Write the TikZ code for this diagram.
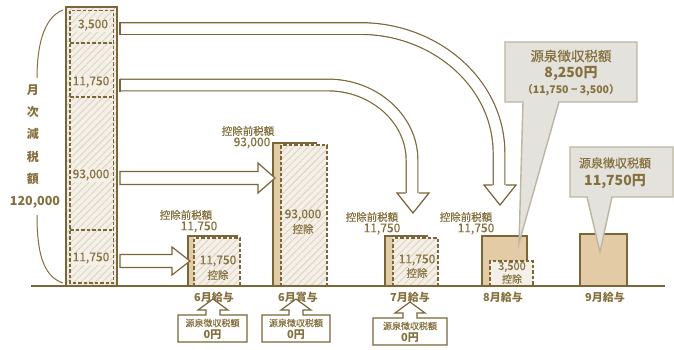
\documentclass[tikz,border=0pt]{standalone}
\usepackage{fontspec}
\setmainfont{Noto Sans CJK JP}
\newfontfamily\medf{Noto Sans CJK JP}[FakeBold=0.35]
\usetikzlibrary{patterns.meta}
\definecolor{ol}{HTML}{7A6636}
\definecolor{tx}{HTML}{84703C}
\definecolor{tanc}{HTML}{E3CBA5}
\definecolor{hbg}{HTML}{F4F0E8}
\definecolor{hln}{HTML}{DDD2BE}
\definecolor{cfill}{HTML}{E4E2DC}
\definecolor{cline}{HTML}{BDB5A0}
\tikzset{
  hatch/.style={preaction={fill=hbg},pattern={Lines[angle=45,distance=5pt,line width=0.8pt]},pattern color=hln},
  solidln/.style={draw=ol,line width=1.5pt},
  dashln/.style={draw=ol,line width=1.6pt,dash pattern=on 3.5pt off 2pt},
  lbl/.style={text=tx,font=\medf\fontsize{12}{12}\selectfont,inner sep=0pt},
  smalllbl/.style={text=tx,font=\medf\fontsize{10.5}{11}\selectfont,inner sep=0pt},
  monthlbl/.style={text=tx,font=\fontsize{11}{11}\selectfont\bfseries,inner sep=0pt},
  vchar/.style={text=tx,font=\fontsize{12}{12}\selectfont\bfseries,inner sep=0pt},
  blk/.style={draw=ol,line width=1.2pt,fill=white,line join=miter},
  shaft/.style={draw=ol,line width=1.2pt,double=white,double distance=10.5pt},
  callout/.style={draw=cline,line width=1.4pt,fill=cfill},
  boxlbl/.style={text=tx,font=\medf\fontsize{9}{9}\selectfont,inner sep=0pt},
  boxval/.style={text=tx,font=\fontsize{11}{11}\selectfont\bfseries,inner sep=0pt},
}
\begin{document}
\begin{tikzpicture}[x=1pt,y=-1pt]
\useasboundingbox[fill=white] (0,0) rectangle (674,349);

% ---- tall column ----
\draw[solidln,hatch] (66,7) rectangle (117,286);
\draw[dashln] (70,10.5) rectangle (113.5,283);
\draw[dashln] (70,43) -- (113.5,43);
\draw[dashln] (70,97) -- (113.5,97);
\draw[dashln] (70,230) -- (113.5,230);
\node[lbl,fill=hbg,inner sep=1pt] (c1) at (93,25) {3,500};
\node[lbl,fill=hbg,inner sep=1pt] (c2) at (91,82) {11,750};
\node[lbl,fill=hbg,inner sep=1pt] (c3) at (91,175) {93,000};
\node[lbl,fill=hbg,inner sep=1pt] (c4) at (91,258) {11,750};

% ---- brace and vertical label ----
\draw[tx,line width=1pt] (63,10) .. controls (42,18) and (37,50) .. (37,78);
\draw[tx,line width=1pt] (37,215) .. controls (37,250) and (42,276) .. (63,283);
\node[vchar] (v1) at (33,90) {月};
\node[vchar] (v2) at (33,112) {次};
\node[vchar] (v3) at (33,134) {減};
\node[vchar] (v4) at (33,157) {税};
\node[vchar] (v5) at (33,179) {額};
\node[vchar,font=\fontsize{12.5}{12.5}\selectfont\bfseries] (v6) at (35,202) {120,000};

% ---- bars ----
% 6月給与
\fill[tanc] (188,236) rectangle (194,286);
\path[hatch] (194,238) rectangle (240,286);
\draw[dashln] (194,286) -- (194,238) -- (240,238) -- (240,286);
\draw[solidln] (188,286) -- (188,236) -- (238,236);
% 6月賞与
\fill[tanc] (273,143) rectangle (281,286);
\path[hatch] (281,145) rectangle (327,286);
\draw[dashln] (281,286) -- (281,145) -- (327,145) -- (327,286);
\draw[solidln] (273,286) -- (273,143) -- (317,143);
% 7月給与
\fill[tanc] (385,236) rectangle (393,286);
\path[hatch] (393,238) rectangle (438,286);
\draw[dashln] (393,286) -- (393,238) -- (438,238) -- (438,286);
\draw[solidln] (385,286) -- (385,236) -- (428,236);
% 8月給与
\draw[solidln,fill=tanc] (482,236) rectangle (527,286);
\fill[hbg] (490,261) rectangle (533,286);
\draw[dashln] (490,286) -- (490,261) -- (533,261) -- (533,286);
% 9月給与
\draw[solidln,fill=tanc] (580,234) rectangle (627,286);

% baseline
\draw[ol,line width=1.8pt] (31,286) -- (665,286);

% ---- labels over bars ----
\node[smalllbl] (a1) at (186,215) {控除前税額};
\node[lbl] (a2) at (199,227) {11,750};
\node[smalllbl] (b1) at (248,131) {控除前税額};
\node[lbl] (b2) at (252,143) {93,000};
\node[smalllbl] (d1) at (372,217) {控除前税額};
\node[lbl] (d2) at (382,229) {11,750};
\node[smalllbl] (e1) at (466,217) {控除前税額};
\node[lbl] (e2) at (476,229) {11,750};

% inner texts
\node[lbl] (i1) at (218,261) {11,750};
\node[smalllbl] (i1b) at (218,275) {控除};
\node[lbl] (i2) at (303,215) {93,000};
\node[smalllbl] (i2b) at (303,229) {控除};
\node[lbl] (i3) at (417,260) {11,750};
\node[smalllbl] (i3b) at (417,273) {控除};
\node[lbl,font=\medf\fontsize{11}{11}\selectfont] (i4) at (512,267) {3,500};
\node[smalllbl,font=\medf\fontsize{10}{10}\selectfont] (i4b) at (512,279) {控除};

% month labels
\node[monthlbl] (m1) at (214,297) {6月給与};
\node[monthlbl] (m2) at (298,297) {6月賞与};
\node[monthlbl] (m3) at (410,297) {7月給与};
\node[monthlbl] (m4) at (503,297) {8月給与};
\node[monthlbl] (m5) at (605,297) {9月給与};

% ---- block arrows ----
% arrow 1 (3,500) -> 8月
\draw[shaft] (120,28.5) -- (360,28.5) .. controls (436,28.5) and (499,84) .. (499,153) -- (499,185.5);
\draw[ol,line width=1.2pt] (120,22) -- (120,35);
\draw[blk] (492.5,185) -- (484,185) -- (500,205) -- (516,185) -- (505.5,185);
% arrow 2 (11,750) -> 7月
\draw[shaft] (120,85) -- (328,85) .. controls (374,85) and (412,119) .. (412,160) -- (412,193.5);
\draw[ol,line width=1.2pt] (120,78.5) -- (120,91.5);
\draw[blk] (405.5,193) -- (397,193) -- (413,213) -- (429,193) -- (418.5,193);
% arrow 3 (93,000) -> 6月賞与
\draw[blk] (120,171.5) -- (258,171.5) -- (258,163) -- (275,178) -- (258,193) -- (258,184.5) -- (120,184.5) -- cycle;
% arrow 4 (11,750) -> 6月給与
\draw[blk] (120,254.5) -- (172,254.5) -- (172,247) -- (190,261) -- (172,275) -- (172,267.5) -- (120,267.5) -- cycle;

% ---- callouts ----
\draw[callout] (505,42) -- (637,42) -- (637,102) -- (559,102) -- (519,243) -- (523,102) -- (505,102) -- cycle;
\node[text=tx,font=\medf\fontsize{13.5}{14}\selectfont,inner sep=0pt] (k1) at (571,56) {源泉徴収税額};
\node[text=tx,font=\fontsize{14}{14}\selectfont\bfseries,inner sep=0pt] (k2) at (571,74) {8,250円};
\node[text=tx,font=\fontsize{10.5}{11}\selectfont\bfseries,inner sep=0pt] (k3) at (571,90) {（11,750 − 3,500）};

\draw[callout] (570,147) -- (673,147) -- (673,197) -- (612,197) -- (600,252) -- (587,197) -- (570,197) -- cycle;
\node[text=tx,font=\medf\fontsize{12}{12}\selectfont,inner sep=0pt] (k4) at (615,163) {源泉徴収税額};
\node[text=tx,font=\fontsize{14}{14}\selectfont\bfseries,inner sep=0pt] (k5) at (615,182) {11,750円};

% ---- bottom boxes ----
\draw[blk] (178,315) -- (206,315) -- (206,310) -- (198,310) -- (213,299) -- (228,310) -- (220,310) -- (220,315) -- (247,315) -- (247,342) -- (178,342) -- cycle;
\node[boxlbl] (p1) at (212.5,323) {源泉徴収税額};
\node[boxval] (q1) at (212.5,335) {0円};
\draw[blk] (262,315) -- (289,315) -- (289,310) -- (281,310) -- (296,299) -- (311,310) -- (303,310) -- (303,315) -- (330,315) -- (330,342) -- (262,342) -- cycle;
\node[boxlbl] (p2) at (296,323) {源泉徴収税額};
\node[boxval] (q2) at (296,335) {0円};
\draw[blk] (373,318) -- (403,318) -- (403,313) -- (395,313) -- (410,302) -- (425,313) -- (417,313) -- (417,318) -- (447,318) -- (447,345) -- (373,345) -- cycle;
\node[boxlbl] (p3) at (410,326) {源泉徴収税額};
\node[boxval] (q3) at (410,338) {0円};
\end{tikzpicture}
\end{document}
